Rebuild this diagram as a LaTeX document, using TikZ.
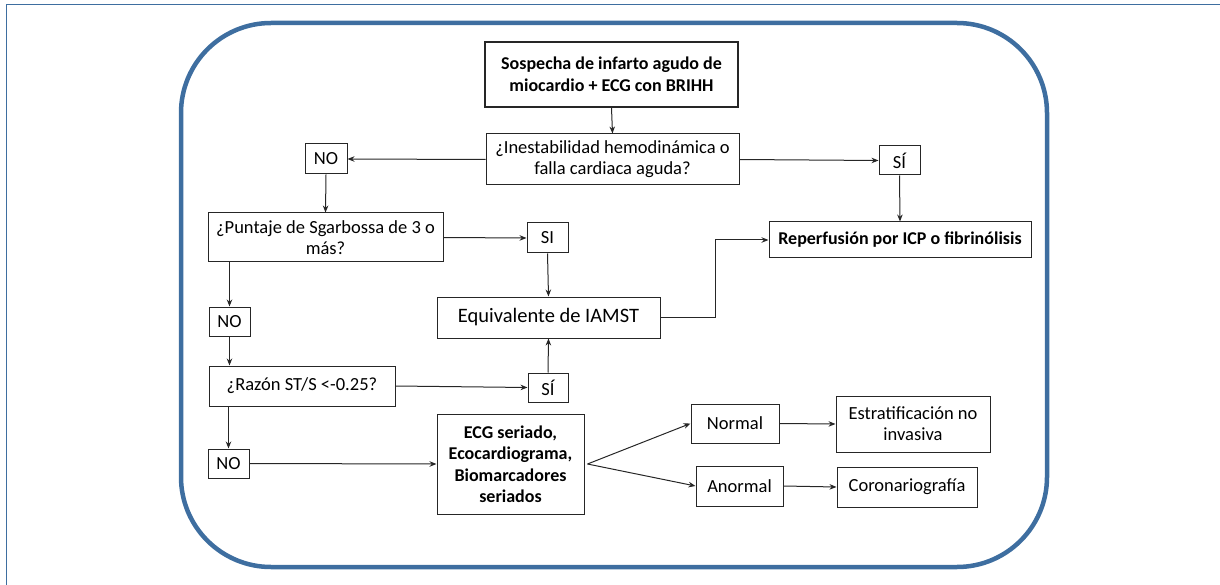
\documentclass[tikz,border=0pt]{standalone}
\usepackage{fontspec}
\setmainfont{Carlito}
\usetikzlibrary{arrows.meta}
\definecolor{frameblue}{RGB}{62,110,160}
\tikzset{
  box/.style={draw=black!85, line width=1pt, fill=white, inner sep=0pt, align=center,
    font=\fontsize{18.5}{21}\selectfont},
  boldbox/.style={box, font=\bfseries\fontsize{18}{21.5}\selectfont},
  conn/.style={draw=black!85, line width=1pt, -{Stealth[length=7pt,width=5.5pt]}},
}
\begin{document}
\begin{tikzpicture}[x=1pt,y=-1pt]
\useasboundingbox (0,0) rectangle (1220,585);
% outer frame (left and top edges)
\draw[frameblue, line width=1.5pt] (6.5,585) -- (6.5,4.5) -- (1220,4.5);
% rounded panel
\draw[frameblue, line width=4.5pt, rounded corners=90pt] (181,23) rectangle (1047,567);

% nodes
\node[boldbox, line width=2pt, minimum width=253pt, minimum height=65pt] (top) at (611.5,74.5)
  {Sospecha de infarto agudo de\\miocardio + ECG con BRIHH};
\node[box, minimum width=253pt, minimum height=51pt] (inest) at (612.5,159.5)
  {¿Inestabilidad hemodinámica o\\falla cardiaca aguda?};
\node[box, minimum width=42pt, minimum height=30pt] (no1) at (326,159) {NO};
\node[box, minimum width=41pt, minimum height=29pt] (si1) at (899.5,160.5) {SÍ};
\node[boldbox, minimum width=262pt, minimum height=36pt] (rep) at (900,240)
  {Reperfusión por ICP o fibrinólisis};
\node[box, minimum width=235pt, minimum height=49pt] (punt) at (325.5,237.5)
  {¿Puntaje de Sgarbossa de 3 o\\más?};
\node[box, minimum width=41pt, minimum height=30pt] (si2) at (547.5,238) {SI};
\node[box, minimum width=223pt, minimum height=41pt, font=\fontsize{20.5}{24}\selectfont] (equiv) at (548.5,317.5)
  {Equivalente de IAMST};
\node[box, minimum width=41pt, minimum height=29pt] (no2) at (229.5,321.5) {NO};
\node[box, minimum width=186pt, minimum height=40pt] (razon) at (302,386)
  {¿Razón ST/S <-0.25?};
\node[box, minimum width=40pt, minimum height=29pt] (si3) at (548,387.5) {SÍ};
\node[box, minimum width=41pt, minimum height=29pt] (no3) at (228.5,463.5) {NO};
\node[boldbox, minimum width=147pt, minimum height=100pt] (ecg) at (510.5,464)
  {ECG seriado,\\Ecocardiograma,\\Biomarcadores\\seriados};
\node[box, minimum width=88pt, minimum height=39pt] (normal) at (735,423.5) {Normal};
\node[box, minimum width=87pt, minimum height=40pt] (anormal) at (739.5,486) {Anormal};
\node[box, minimum width=154pt, minimum height=56pt] (estrat) at (913,424)
  {Estratificación no\\invasiva};
\node[box, minimum width=140pt, minimum height=40pt] (coro) at (907,487) {Coronariografía};

% connectors
\draw[conn] (top.south) -- (inest.north);
\draw[conn] (inest.west) -- (no1.east);
\draw[conn] (inest.east) -- (si1.west);
\draw[conn] (si1.south) -- (rep.north);
\draw[conn] (no1.south) -- (punt.north);
\draw[conn] (punt.east) -- (si2.west);
\draw[conn] (si2.south) -- (equiv.north);
\draw[conn] (no2.north |- punt.south) -- (no2.north);
\draw[conn] (no2.south) -- (no2.south |- razon.north);
\draw[conn] (razon.east) -- (si3.west);
\draw[conn] (si3.north) -- (equiv.south);
\draw[conn] (no3.north |- razon.south) -- (no3.north);
\draw[conn] (no3.east) -- (ecg.west);
\draw[conn] (equiv.east) -- ++(55,0) |- (rep.west);
\coordinate (fork) at ([xshift=3pt]ecg.east);
\draw[conn] (fork) -- (normal.west);
\draw[conn] (fork) -- (anormal.west);
\draw[conn] (normal.east) -- (estrat.west);
\draw[conn] (anormal.east) -- (coro.west);
\end{tikzpicture}
\end{document}
